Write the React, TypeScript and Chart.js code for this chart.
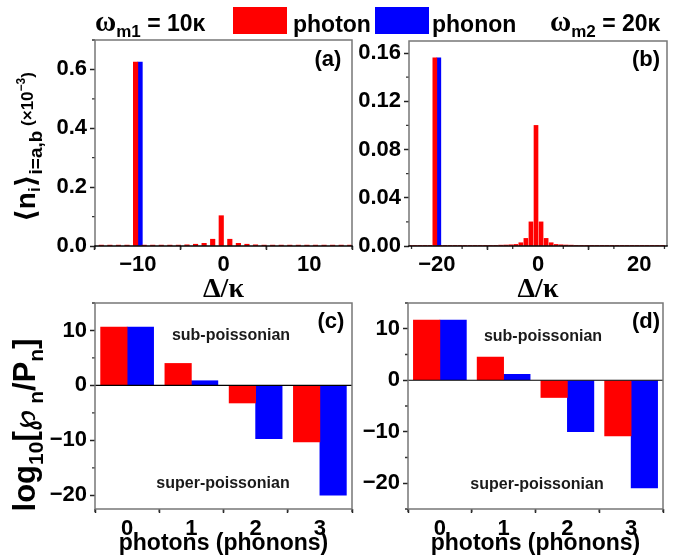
import React, { useEffect, useRef } from 'react';
import { Chart, registerables } from 'chart.js';

Chart.register(...registerables);

const W = 683;
const H = 558;
const SANS = "'Liberation Sans', Arial, sans-serif";
const SERIF = "'Liberation Serif', 'Times New Roman', serif";
const SYM = "'DejaVu Sans', sans-serif";
const RED = '#ff0000';
const BLUE = '#0000ff';
Chart.defaults.font.family = SANS;

// ---- panel (a): omega_m1 = 10 kappa ----
const detuningA = [-15, -14, -13, -12, -11, -10, -9, -8, -7, -6, -5, -4, -3, -2, -1, 0, 1, 2, 3, 4, 5, 6, 7, 8, 9, 10, 11, 12, 13, 14, 15];
const photonA = [0.003, 0.003, 0.003, 0.003, 0.003, 0.625, 0.003, 0.003, 0.003, 0.003, 0.003, 0.004, 0.006, 0.009, 0.023, 0.103, 0.023, 0.009, 0.006, 0.004, 0.003, 0.003, 0.003, 0.003, 0.003, 0.003, 0.003, 0.003, 0.003, 0.003, 0.003];
const phononDetuningA = [-10];
const phononA = [0.625];
const xTicksA = [-10, 0, 10];
const xMinorA = [-15, -5, 5, 15];
const yTicksA = [0, 0.2, 0.4, 0.6];
const yMinorA = [0.1, 0.3, 0.5, 0.7];

// ---- panel (b): omega_m2 = 20 kappa ----
const detuningB = [-25, -24, -23, -22, -21, -20, -19, -18, -17, -16, -15, -14, -13, -12, -11, -10, -9, -8, -7, -6, -5, -4, -3, -2, -1, 0, 1, 2, 3, 4, 5, 6, 7, 8, 9, 10, 11, 12, 13, 14, 15, 16, 17, 18, 19, 20, 21, 22, 23, 24, 25];
const photonB = [0.0005, 0.0005, 0.0005, 0.0005, 0.0005, 0.156, 0.0005, 0.0005, 0.0005, 0.0005, 0.0005, 0.0005, 0.0005, 0.0005, 0.0005, 0.0005, 0.0005, 0.0005, 0.0007, 0.0008, 0.001, 0.0013, 0.0027, 0.0063, 0.02, 0.1, 0.02, 0.0063, 0.0027, 0.0013, 0.001, 0.0008, 0.0007, 0.0005, 0.0005, 0.0005, 0.0005, 0.0005, 0.0005, 0.0005, 0.0005, 0.0005, 0.0005, 0.0005, 0.0005, 0.0005, 0.0005, 0.0005, 0.0005, 0.0005, 0.0005];
const phononDetuningB = [-20];
const phononB = [0.156];
const xTicksB = [-20, 0, 20];
const xMinorB = [-25, -15, -10, -5, 5, 10, 15, 25];
const yTicksB = [0, 0.04, 0.08, 0.12, 0.16];
const yMinorB = [0.02, 0.06, 0.1, 0.14];

// ---- panels (c), (d): log10[P/Pn] ----
const photonNumbers = [0, 1, 2, 3];
const photonC = [10.6, 4.0, -3.2, -10.3];
const phononC = [10.6, 0.85, -9.7, -20.0];
const photonD = [11.7, 4.5, -3.35, -10.8];
const phononD = [11.7, 1.15, -10.0, -20.9];
const xTicksN = [0, 1, 2, 3];
const xMinorN = [-0.5, 0.5, 1.5, 2.5, 3.5];
const yTicksCD = [-20, -10, 0, 10];
const yMinorC = [-15, -5, 5, 15];
const yMinorD = [-25, -15, -5, 5, 15];

type PanelSpec = {
  box: [number, number, number, number];
  xRange: [number, number];
  yRange: [number, number];
  xTicks: number[];
  xMinor: number[];
  yTicks: number[];
  yMinor: number[];
  xDigits: number;
  yDigits: number;
  photonX: number[];
  photonY: number[];
  phononX: number[];
  phononY: number[];
  barPx: number;
  xTitle: string;
  xTitleFont: any;
  xBoxH: number;
  xTickPad: number;
  top: boolean;
};

const Y_BOX_W = 60;
const fmtNum = (v: number, d: number) => {
  const s = Math.abs(v).toFixed(d);
  return v < -1e-9 ? '\u2212' + s : s;
};

const titleFontTop = { family: SERIF, size: 28, weight: 'bold' };
const titleFontBottom = { family: SANS, size: 23, weight: 'bold' };

const specA: PanelSpec = {
  box: [95, 40, 352, 246], xRange: [-15, 15], yRange: [0, 0.7],
  xTicks: xTicksA, xMinor: xMinorA, yTicks: yTicksA, yMinor: yMinorA, xDigits: 0, yDigits: 1,
  photonX: detuningA, photonY: photonA, phononX: phononDetuningA, phononY: phononA,
  barPx: 4.5, xTitle: '\u0394/\u03ba', xTitleFont: titleFontTop, xBoxH: 61, xTickPad: 2, top: true,
};
const specB: PanelSpec = {
  box: [409, 41, 667, 246], xRange: [-25.5, 25.5], yRange: [0, 0.17],
  xTicks: xTicksB, xMinor: xMinorB, yTicks: yTicksB, yMinor: yMinorB, xDigits: 0, yDigits: 2,
  photonX: detuningB, photonY: photonB, phononX: phononDetuningB, phononY: phononB,
  barPx: 4, xTitle: '\u0394/\u03ba', xTitleFont: titleFontTop, xBoxH: 61, xTickPad: 2, top: true,
};
const specC: PanelSpec = {
  box: [95, 303, 352, 509], xRange: [-0.5, 3.5], yRange: [-22.5, 15],
  xTicks: xTicksN, xMinor: xMinorN, yTicks: yTicksCD, yMinor: yMinorC, xDigits: 0, yDigits: 0,
  photonX: photonNumbers, photonY: photonC, phononX: photonNumbers, phononY: phononC,
  barPx: 26.5, xTitle: 'photons (phonons)', xTitleFont: titleFontBottom, xBoxH: 48, xTickPad: 3, top: false,
};
const specD: PanelSpec = {
  box: [408, 303, 663, 509], xRange: [-0.5, 3.5], yRange: [-25, 15],
  xTicks: xTicksN, xMinor: xMinorN, yTicks: yTicksCD, yMinor: yMinorD, xDigits: 0, yDigits: 0,
  photonX: photonNumbers, photonY: photonD, phononX: photonNumbers, phononY: phononD,
  barPx: 26.5, xTitle: 'photons (phonons)', xTitleFont: titleFontBottom, xBoxH: 48, xTickPad: 3, top: false,
};

function makeConfig(p: PanelSpec): any {
  const [l, t, r, b] = p.box;
  const tickFont = { family: SANS, size: 22, weight: 'bold' };
  const panelPlugin = {
    id: 'panelDecor',
    afterDatasetsDraw(chart: any) {
      if (p.top) return;
      const { ctx, chartArea: a } = chart;
      const y0 = chart.scales.y.getPixelForValue(0);
      ctx.save();
      ctx.strokeStyle = '#000';
      ctx.lineWidth = 1.2;
      ctx.beginPath();
      ctx.moveTo(a.left, y0);
      ctx.lineTo(a.right, y0);
      ctx.stroke();
      ctx.restore();
    },
    afterDraw(chart: any) {
      const { ctx, chartArea: a } = chart;
      const xs = chart.scales.x;
      const ys = chart.scales.y;
      ctx.save();
      ctx.lineWidth = 1.3;
      ctx.strokeStyle = '#333';
      ctx.beginPath();
      p.xMinor.forEach((v) => {
        const x = xs.getPixelForValue(v);
        ctx.moveTo(x, a.bottom);
        ctx.lineTo(x, a.bottom + 3);
      });
      p.yMinor.forEach((v) => {
        const y = ys.getPixelForValue(v);
        ctx.moveTo(a.left, y);
        ctx.lineTo(a.left - 3, y);
      });
      ctx.stroke();
      ctx.lineWidth = 1.5;
      ctx.strokeStyle = '#777';
      ctx.beginPath();
      ctx.moveTo(a.left, a.bottom);
      ctx.lineTo(a.left, a.top);
      ctx.lineTo(a.right, a.top);
      ctx.lineTo(a.right, a.bottom);
      if (!p.top) ctx.lineTo(a.left, a.bottom);
      ctx.stroke();
      if (p.top) {
        ctx.strokeStyle = '#000';
        ctx.beginPath();
        ctx.moveTo(a.left - 0.75, a.bottom);
        ctx.lineTo(a.right + 0.75, a.bottom);
        ctx.stroke();
      }
      ctx.restore();
    },
  };
  return {
    type: 'bar',
    data: {
      datasets: [
        {
          label: 'photon',
          data: p.photonX.map((x, i) => ({ x, y: p.photonY[i] })),
          backgroundColor: RED,
          borderWidth: 0,
          barThickness: p.barPx,
        },
        {
          label: 'phonon',
          data: p.phononX.map((x, i) => ({ x, y: p.phononY[i] })),
          backgroundColor: BLUE,
          borderWidth: 0,
          barThickness: p.barPx,
        },
      ],
    },
    options: {
      responsive: false,
      animation: false,
      devicePixelRatio: 1,
      events: [],
      layout: {
        autoPadding: false,
        padding: { left: l - Y_BOX_W, right: W - r, top: t, bottom: H - b - p.xBoxH },
      },
      plugins: { legend: { display: false }, tooltip: { enabled: false }, title: { display: false } },
      scales: {
        x: {
          type: 'linear',
          bounds: 'data',
          min: p.xRange[0],
          max: p.xRange[1],
          offset: false,
          afterBuildTicks: (s: any) => {
            s.ticks = p.xTicks.map((v) => ({ value: v }));
          },
          afterFit: (s: any) => {
            s.height = p.xBoxH;
            s.paddingLeft = 0;
            s.paddingRight = 0;
          },
          ticks: {
            font: tickFont,
            color: '#000',
            padding: p.xTickPad,
            maxRotation: 0,
            autoSkip: false,
            callback: (v: number) => fmtNum(v, p.xDigits),
          },
          grid: { drawOnChartArea: false, drawTicks: true, tickLength: 4, tickColor: '#222', tickWidth: 1.5 },
          border: { display: false },
          title: { display: true, text: p.xTitle, font: p.xTitleFont, color: '#000', padding: 0 },
        },
        y: {
          type: 'linear',
          bounds: 'data',
          min: p.yRange[0],
          max: p.yRange[1],
          afterBuildTicks: (s: any) => {
            s.ticks = p.yTicks.map((v) => ({ value: v }));
          },
          afterFit: (s: any) => {
            s.width = Y_BOX_W;
            s.paddingTop = 0;
            s.paddingBottom = 0;
          },
          ticks: {
            font: tickFont,
            color: '#000',
            padding: 3,
            autoSkip: false,
            callback: (v: number) => fmtNum(v, p.yDigits),
          },
          grid: { drawOnChartArea: false, drawTicks: true, tickLength: 5, tickColor: '#222', tickWidth: 1.5 },
          border: { display: false },
        },
      },
    },
    plugins: [panelPlugin],
  };
}

function PanelChart({ spec }: { spec: PanelSpec }) {
  const ref = useRef<HTMLCanvasElement>(null);
  useEffect(() => {
    const chart = new Chart(ref.current as HTMLCanvasElement, makeConfig(spec));
    return () => chart.destroy();
  }, [spec]);
  return <canvas ref={ref} width={W} height={H} style={{ position: 'absolute', left: 0, top: 0 }} />;
}

export default function App() {
  return (
    <div style={{ position: 'absolute', left: 0, top: 0, width: W, height: H, background: '#fff', overflow: 'hidden' }}>
      <PanelChart spec={specA} />
      <PanelChart spec={specB} />
      <PanelChart spec={specC} />
      <PanelChart spec={specD} />
      <svg
        width={W}
        height={H}
        style={{ position: 'absolute', left: 0, top: 0, pointerEvents: 'none', whiteSpace: 'pre' }}
        fontFamily={SANS}
        fontWeight="bold"
      >
        <text x={95} y={31} fontSize={23}>
          <tspan fontFamily={SERIF} fontSize={29}>ω</tspan>
          <tspan fontSize={17} dy={6}>m1</tspan>
          <tspan dy={-6}>{' = 10κ'}</tspan>
        </text>
        <rect x={233} y={7} width={54} height={27} fill={RED} />
        <text x={293} y={32} fontSize={23}>photon</text>
        <rect x={375} y={7} width={54} height={27} fill={BLUE} />
        <text x={432} y={32} fontSize={23}>phonon</text>
        <text x={550} y={31} fontSize={23}>
          <tspan fontFamily={SERIF} fontSize={29}>ω</tspan>
          <tspan fontSize={17} dy={6}>m2</tspan>
          <tspan dy={-6}>{' = 20κ'}</tspan>
        </text>

        <text x={328} y={66} fontSize={22} textAnchor="middle">(a)</text>
        <text x={646} y={66} fontSize={22} textAnchor="middle">(b)</text>
        <text x={331} y={328} fontSize={22} textAnchor="middle">(c)</text>
        <text x={646} y={328} fontSize={22} textAnchor="middle">(d)</text>

        <text x={231} y={340} fontSize={16} fill="#1a1a1a" textAnchor="middle">sub-poissonian</text>
        <text x={223} y={488} fontSize={16} fill="#1a1a1a" textAnchor="middle">super-poissonian</text>
        <text x={543} y={341} fontSize={16} fill="#1a1a1a" textAnchor="middle">sub-poissonian</text>
        <text x={537} y={489} fontSize={16} fill="#1a1a1a" textAnchor="middle">super-poissonian</text>

        <text transform="translate(35,147) rotate(-90)" textAnchor="middle" fontSize={28}>
          <tspan fontFamily={SYM}>⟨</tspan>
          <tspan>n</tspan>
          <tspan fontSize={17} dy={5}>i</tspan>
          <tspan fontFamily={SYM} dy={-5}>⟩</tspan>
          <tspan fontSize={19} dy={7}>i=a,b</tspan>
          <tspan fontSize={17} dy={-9}>{' (×10'}</tspan>
          <tspan fontSize={12} dy={-8}>−3</tspan>
          <tspan fontSize={17} dy={8}>)</tspan>
        </text>
        <text transform="translate(35,425) rotate(-90)" textAnchor="middle" fontSize={31}>
          <tspan>log</tspan>
          <tspan fontSize={21} dy={8}>10</tspan>
          <tspan dy={-8}>[</tspan>
          <tspan fontFamily={SYM}>℘</tspan>
          <tspan fontSize={21} dy={8}>{' n'}</tspan>
          <tspan dy={-8}>/P</tspan>
          <tspan fontSize={21} dy={8}>n</tspan>
          <tspan dy={-8}>]</tspan>
        </text>
      </svg>
    </div>
  );
}
